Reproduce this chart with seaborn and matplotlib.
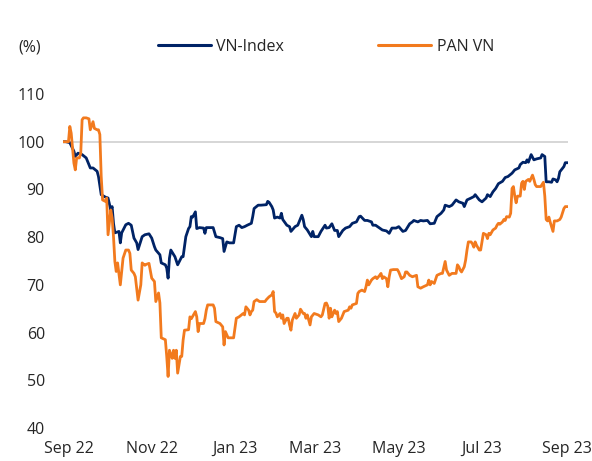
import matplotlib
matplotlib.use("Agg")
import matplotlib.pyplot as plt
import pandas as pd
import seaborn as sns
from matplotlib.lines import Line2D

# ---- data (days since 2022-09-01, index level rebased to 100) ----
vn_days = [-4, -2, 1, 4, 5, 7, 10, 13, 16, 18, 21, 22, 24, 27, 29, 31, 32, 33, 34, 37, 38, 39,
           42, 44, 46, 48, 50, 51, 54, 56, 59, 61, 63, 64, 67, 68, 71, 72, 73, 74, 75, 78, 80,
           83, 84, 86, 88, 89, 90, 91, 93, 94, 96, 99, 100, 101, 106, 108, 111, 113, 114, 116,
           118, 121, 123, 125, 127, 129, 131, 134, 135, 136, 139, 141, 145, 146, 147, 149, 150,
           151, 153, 155, 156, 157, 160, 162, 163, 166, 168, 171, 172, 173, 175, 178, 179, 180,
           183, 185, 188, 189, 191, 193, 195, 197, 198, 201, 203, 206, 208, 211, 213, 214, 217,
           219, 222, 223, 225, 228, 230, 233, 235, 237, 240, 242, 245, 247, 250, 252, 253, 256,
           258, 260, 263, 265, 268, 270, 273, 275, 276, 279, 281, 284, 286, 289, 290, 292, 295,
           297, 298, 301, 303, 306, 307, 309, 311, 313, 315, 318, 320, 322, 325, 327, 330, 331,
           333, 335, 336, 337, 339, 341, 343, 346, 347, 349, 350, 352, 354, 355, 357, 358, 359,
           360, 363, 364, 366]
vn_vals = [100.0, 100.0, 99.8, 98.0, 96.9, 97.6, 97.3, 96.6, 94.5, 94.5, 93.8, 92.7, 88.9, 88.4,
           88.2, 85.7, 86.4, 82.9, 80.9, 81.2, 78.8, 80.9, 82.6, 82.9, 82.5, 79.8, 78.8, 77.4,
           80.1, 80.5, 80.7, 79.8, 78.0, 77.3, 76.3, 74.6, 74.2, 73.5, 71.4, 75.6, 77.3, 75.9,
           74.2, 75.9, 75.9, 80.1, 81.8, 82.2, 84.3, 84.2, 85.3, 81.8, 82.0, 81.9, 80.8, 82.0,
           82.0, 80.1, 79.9, 79.7, 77.0, 79.0, 78.8, 78.8, 82.2, 82.5, 82.0, 82.2, 82.5, 82.9,
           84.3, 86.0, 86.7, 86.7, 86.8, 87.5, 87.3, 86.4, 85.7, 84.0, 84.2, 84.0, 85.0, 83.7,
           82.5, 82.2, 81.2, 82.2, 82.5, 84.6, 83.7, 82.2, 81.5, 80.1, 81.2, 80.1, 80.1, 81.2,
           82.5, 81.9, 82.0, 82.8, 81.4, 81.4, 80.1, 81.4, 81.9, 82.2, 82.9, 83.2, 84.3, 84.4,
           83.5, 83.5, 83.2, 82.5, 82.5, 81.9, 81.5, 81.3, 80.8, 81.9, 81.9, 82.2, 81.2, 81.4,
           82.8, 83.2, 83.5, 83.2, 83.5, 83.4, 83.5, 82.8, 82.9, 84.3, 85.0, 85.7, 86.7, 86.4,
           86.7, 87.8, 87.4, 87.1, 86.4, 87.8, 88.2, 88.5, 88.9, 87.8, 87.4, 88.2, 88.9, 88.5,
           89.5, 90.2, 91.2, 91.7, 92.5, 92.7, 93.4, 94.1, 94.5, 95.2, 95.7, 95.6, 96.2, 95.7,
           97.3, 96.2, 96.4, 96.6, 97.3, 96.9, 91.6, 91.6, 91.5, 92.2, 92.0, 91.6, 92.3, 93.7,
           94.8, 95.6, 95.6]

pan_days = [-4, -2, 0, 1, 2, 4, 5, 6, 8, 9, 10, 11, 13, 15, 16, 18, 19, 21, 22, 23, 24, 25, 27,
            28, 29, 31, 32, 33, 34, 35, 36, 38, 40, 42, 44, 45, 46, 48, 49, 51, 53, 54, 56, 57,
            59, 61, 63, 64, 66, 67, 68, 71, 72, 73, 74, 76, 77, 78, 79, 80, 82, 83, 84, 85, 88,
            89, 90, 93, 94, 95, 96, 99, 100, 101, 102, 106, 107, 108, 111, 113, 114, 115, 117,
            119, 121, 123, 125, 128, 129, 130, 132, 133, 134, 135, 136, 138, 140, 144, 145, 147,
            149, 150, 151, 152, 153, 155, 156, 157, 158, 160, 161, 162, 163, 164, 166, 167, 169,
            170, 172, 173, 174, 175, 177, 178, 180, 183, 185, 186, 188, 189, 190, 191, 192, 193,
            195, 196, 197, 198, 200, 201, 202, 205, 206, 207, 208, 211, 212, 213, 215, 217, 218,
            219, 220, 222, 223, 225, 226, 228, 229, 230, 231, 233, 234, 235, 236, 238, 241, 242,
            244, 246, 247, 248, 250, 252, 255, 256, 258, 260, 263, 264, 265, 266, 268, 270, 273,
            274, 276, 277, 279, 281, 284, 285, 286, 287, 288, 290, 291, 292, 293, 295, 296, 297,
            298, 299, 301, 302, 303, 304, 306, 307, 308, 309, 311, 313, 314, 315, 316, 318, 319,
            320, 321, 323, 324, 325, 326, 327, 328, 329, 331, 332, 333, 334, 335, 337, 338, 340,
            341, 342, 343, 346, 348, 349, 350, 351, 352, 353, 355, 356, 358, 360, 361, 363, 364,
            366]
pan_vals = [100.0, 100.0, 100.0, 103.2, 101.8, 95.5, 94.1, 96.6, 96.6, 97.6, 104.6, 105.0, 105.0,
            104.8, 102.5, 104.2, 102.8, 102.5, 102.5, 101.5, 92.7, 87.8, 87.5, 88.2, 80.5, 85.7,
            84.0, 80.1, 74.9, 72.8, 74.6, 70.0, 75.6, 77.3, 77.3, 76.6, 73.1, 72.4, 71.7, 66.8,
            70.0, 74.6, 74.1, 74.3, 74.5, 71.4, 70.7, 66.5, 68.3, 66.2, 58.9, 58.5, 55.0, 50.8,
            56.3, 54.6, 56.3, 54.6, 56.3, 51.5, 55.0, 55.0, 58.4, 60.5, 60.6, 63.3, 62.9, 64.4,
            63.3, 60.2, 61.9, 61.9, 62.9, 64.7, 65.8, 65.8, 65.1, 62.3, 61.9, 61.2, 57.4, 60.2,
            58.9, 58.9, 58.9, 63.0, 63.3, 64.0, 63.7, 65.4, 64.7, 63.7, 64.4, 64.7, 66.5, 66.9,
            66.5, 66.5, 66.9, 67.5, 67.9, 68.6, 64.4, 64.1, 63.3, 64.0, 63.0, 63.7, 61.9, 63.0,
            63.0, 61.6, 60.5, 62.6, 64.0, 63.0, 63.7, 64.9, 64.0, 64.0, 63.0, 63.7, 61.6, 63.3,
            64.0, 63.7, 63.3, 63.7, 66.1, 66.2, 65.5, 63.0, 65.1, 63.3, 64.7, 64.0, 64.4, 62.3,
            63.0, 63.7, 64.4, 64.7, 65.4, 65.1, 65.8, 66.1, 68.2, 68.6, 68.9, 68.6, 69.6, 71.0,
            70.0, 71.0, 71.3, 71.7, 71.3, 72.0, 72.4, 71.3, 71.7, 71.3, 69.6, 71.7, 73.1, 73.2,
            73.2, 72.7, 71.3, 71.7, 72.7, 72.7, 72.0, 71.7, 72.0, 69.6, 69.3, 69.6, 70.0, 71.0,
            70.0, 70.7, 70.3, 72.0, 72.4, 72.4, 74.9, 73.1, 72.0, 72.4, 72.4, 74.2, 73.8, 73.1,
            72.7, 73.8, 75.2, 77.3, 79.0, 79.0, 78.6, 77.9, 79.0, 78.3, 77.3, 77.3, 79.0, 80.8,
            80.5, 79.7, 80.8, 80.5, 81.5, 81.9, 82.5, 82.9, 82.7, 83.2, 83.7, 83.5, 84.3, 84.2,
            85.0, 90.2, 90.6, 88.6, 87.2, 88.6, 88.6, 91.3, 91.7, 90.0, 91.7, 92.1, 91.7, 93.0,
            92.1, 91.0, 90.6, 90.6, 91.5, 88.6, 83.7, 83.4, 84.2, 83.1, 81.2, 83.4, 83.4, 83.7,
            84.2, 86.0, 86.4, 86.4]

series_names = ["VN-Index", "PAN VN"]
y_ticks = [40, 50, 60, 70, 80, 90, 100, 110]
tick_dates = ["2022-09-01", "2022-11-01", "2023-01-01", "2023-03-01",
              "2023-05-01", "2023-07-01", "2023-09-01"]
tick_labels = ["Sep 22", "Nov 22", "Jan 23", "Mar 23", "May 23", "Jul 23", "Sep 23"]

# ---- build long-form table ----
base = pd.Timestamp("2022-09-01")
df = pd.concat([
    pd.DataFrame({"date": base + pd.to_timedelta(vn_days, unit="D"),
                  "value": vn_vals, "series": series_names[0]}),
    pd.DataFrame({"date": base + pd.to_timedelta(pan_days, unit="D"),
                  "value": pan_vals, "series": series_names[1]}),
], ignore_index=True)

sns.set_theme(style="white")
plt.rcParams["font.family"] = ["Open Sans", "DejaVu Sans"]
text_color = "#262626"
fs = 11.5

fig = plt.figure(figsize=(5.92, 4.61), dpi=100)
ax = fig.add_axes([63 / 592, 1 - 428 / 461, (568 - 63) / 592, (428 - 94) / 461])

ax.axhline(100, color="#cfcfcf", lw=1.2, zorder=1)

palette = {"VN-Index": "#002366", "PAN VN": "#F27A1E"}
sns.lineplot(data=df, x="date", y="value", hue="series", hue_order=series_names,
             palette=palette, linewidth=2.0, ax=ax, legend=False, zorder=3)

ax.set_xlim(df["date"].min(), df["date"].max())
ax.set_ylim(40, 110)
ax.set_yticks(y_ticks)
ax.set_yticklabels([str(t) for t in y_ticks])
ax.set_xticks(pd.to_datetime(tick_dates))
ax.set_xticklabels(tick_labels)
ax.set_xlabel("")
ax.set_ylabel("")
for s in ax.spines.values():
    s.set_visible(False)
ax.tick_params(axis="both", length=0, labelsize=fs, colors=text_color)
ax.tick_params(axis="y", pad=13)
ax.tick_params(axis="x", pad=9)
ax.grid(False)

fig.text(18 / 592, 1 - 47 / 461, "(%)", fontsize=fs, color=text_color, va="center", ha="left")

handles = [Line2D([0], [0], color=palette[n], lw=2.2) for n in series_names]
leg = fig.legend(handles, series_names, loc="center", ncol=2,
                 bbox_to_anchor=(326 / 592, 1 - 47 / 461), frameon=False,
                 fontsize=fs, handlelength=3.3, handletextpad=0.35, columnspacing=5.9)
for t in leg.get_texts():
    t.set_color(text_color)

fig.savefig("out.png", dpi=100)
